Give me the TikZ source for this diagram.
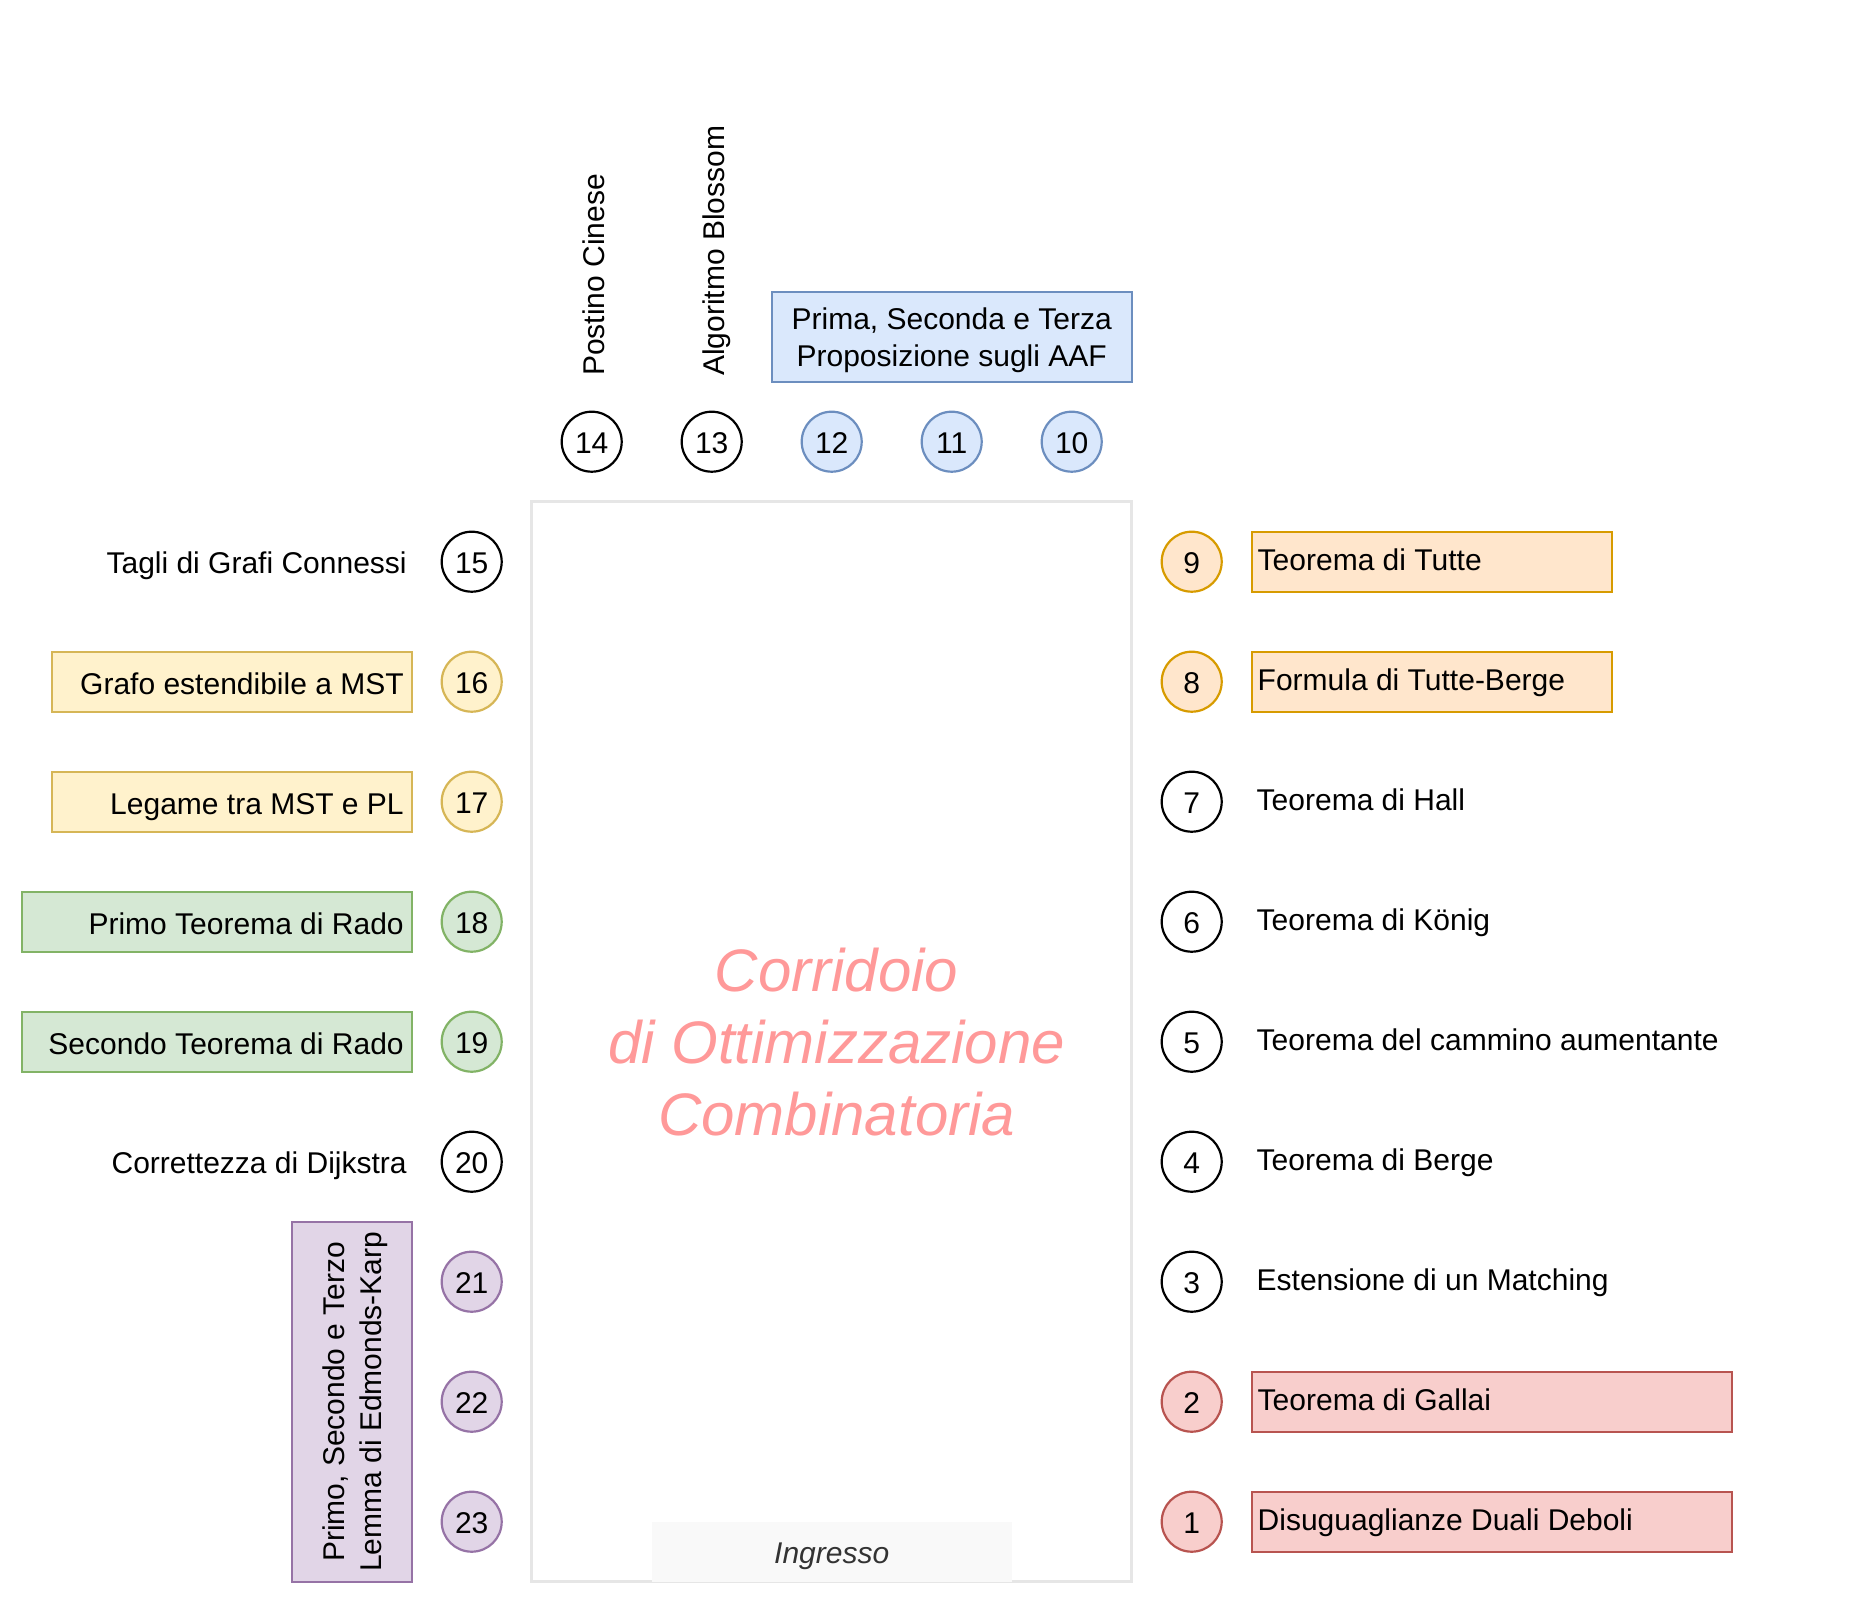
\documentclass[tikz,border=0pt]{standalone}
\usepackage{fontspec}
\setmainfont{Liberation Sans}
\usetikzlibrary{positioning}

\definecolor{gialloFill}{HTML}{FFF2CC}
\definecolor{gialloLine}{HTML}{D6B656}
\definecolor{aranFill}{HTML}{FFE6CC}
\definecolor{aranLine}{HTML}{D79B00}
\definecolor{verdeFill}{HTML}{D5E8D4}
\definecolor{verdeLine}{HTML}{82B366}
\definecolor{rossoFill}{HTML}{F8CECC}
\definecolor{rossoLine}{HTML}{B85450}
\definecolor{bluFill}{HTML}{DAE8FC}
\definecolor{bluLine}{HTML}{6C8EBF}
\definecolor{violaFill}{HTML}{E1D5E7}
\definecolor{violaLine}{HTML}{9673A6}
\definecolor{corrLine}{HTML}{E6E6E6}
\definecolor{ingrFill}{HTML}{F9F9F9}
\definecolor{ingrText}{HTML}{333333}
\definecolor{titolo}{HTML}{FF9999}

\tikzset{
  every node/.style={font=\fontsize{30}{37}\selectfont, outer sep=0pt},
  num/.style={circle, draw, fill=white, line width=2.2pt, minimum size=60pt,
    inner sep=0pt, text height=24.5pt, text depth=0pt},
  lblL/.style={inner xsep=5pt, inner ysep=0pt, text height=24.5pt, text depth=0pt},
  lblR/.style={inner xsep=5pt, inner ysep=0pt, text height=17pt, text depth=0pt},
  boxL/.style={draw, line width=2.2pt, minimum height=60pt, inner xsep=8pt,
    inner ysep=0pt, align=flush right, text height=26pt, text depth=0pt},
  boxR/.style={draw, line width=2.2pt, minimum height=60pt, inner xsep=6pt,
    inner ysep=0pt, align=flush left, text height=17pt, text depth=0pt},
  giallo/.style={draw=gialloLine, fill=gialloFill},
  arancio/.style={draw=aranLine, fill=aranFill},
  verde/.style={draw=verdeLine, fill=verdeFill},
  rosso/.style={draw=rossoLine, fill=rossoFill},
  blu/.style={draw=bluLine, fill=bluFill},
  viola/.style={draw=violaLine, fill=violaFill}
}

\begin{document}
\begin{tikzpicture}[x=1pt, y=-1pt]

  \newcommand\Lx{471.7}
  \newcommand\Rx{1191.7}
  \newcommand\Ty{441.7}
  \newcommand\Yo{561.7}
  \newcommand\Gap{120}

  \useasboundingbox (0,0) rectangle (1873,1603);

  %% corridoio
  \node[draw=corrLine, line width=2.5pt, minimum width=600pt, minimum height=1080pt,
    inner sep=0pt] (corr) at (831.7,1041.7) {};
  \node[fill=ingrFill, minimum width=360pt, minimum height=60pt, inner sep=0pt,
    text=ingrText, text height=22.6pt, text depth=0pt,
    font=\itshape\fontsize{30}{37}\selectfont]
    (ingresso) at ([yshift=30pt]corr.south) {Ingresso};
  \node[text=titolo, align=center, font=\itshape\fontsize{60}{72}\selectfont]
    (titolo) at ([xshift=5pt]corr.center) {Corridoio\\di Ottimizzazione\\Combinatoria};

  %% lato sinistro
  \node[num]         (c15) at (\Lx, \Yo) {15};
  \node[num, giallo] (c16) at (\Lx, \Yo+\Gap) {16};
  \node[num, giallo] (c17) at (\Lx, \Yo+2*\Gap) {17};
  \node[num, verde]  (c18) at (\Lx, \Yo+3*\Gap) {18};
  \node[num, verde]  (c19) at (\Lx, \Yo+4*\Gap) {19};
  \node[num]         (c20) at (\Lx, \Yo+5*\Gap) {20};
  \node[num, viola]  (c21) at (\Lx, \Yo+6*\Gap) {21};
  \node[num, viola]  (c22) at (\Lx, \Yo+7*\Gap) {22};
  \node[num, viola]  (c23) at (\Lx, \Yo+8*\Gap) {23};

  \node[lblL, left=30pt of c15] (l15) {Tagli di Grafi Connessi};
  \node[boxL, giallo, text width=344pt, left=30pt of c16] (l16) {Grafo estendibile a MST};
  \node[boxL, giallo, text width=344pt, left=30pt of c17] (l17) {Legame tra MST e PL};
  \node[boxL, verde, text width=374pt, left=30pt of c18] (l18) {Primo Teorema di Rado};
  \node[boxL, verde, text width=374pt, left=30pt of c19] (l19) {Secondo Teorema di Rado};
  \node[lblL, left=30pt of c20] (l20) {Correttezza di Dijkstra};
  \node[draw, viola, line width=2.2pt, rotate=90, minimum width=360pt, minimum height=120pt,
    align=center, text depth=0pt] (l21) at (351.7, 1401.7)
    {Primo, Secondo e Terzo\\Lemma di Edmonds-Karp};

  %% lato superiore
  \node[num]      (c14) at (\Lx+\Gap, \Ty) {14};
  \node[num]      (c13) at (\Lx+2*\Gap, \Ty) {13};
  \node[num, blu] (c12) at (\Lx+3*\Gap, \Ty) {12};
  \node[num, blu] (c11) at (\Lx+4*\Gap, \Ty) {11};
  \node[num, blu] (c10) at (\Lx+5*\Gap, \Ty) {10};

  \node[rotate=90, anchor=base west, inner sep=0pt]
    (l14) at ([xshift=13pt, yshift=36pt]c14.north) {Postino Cinese};
  \node[rotate=90, anchor=base west, inner sep=0pt]
    (l13) at ([xshift=13pt, yshift=36pt]c13.north) {Algoritmo Blossom};
  \node[draw, blu, line width=2.2pt, minimum width=360pt, minimum height=90pt,
    align=center, text depth=0pt, above=30pt of c11] (l10)
    {Prima, Seconda e Terza\\Proposizione sugli AAF};

  %% lato destro
  \node[num, arancio] (c9) at (\Rx, \Yo) {9};
  \node[num, arancio] (c8) at (\Rx, \Yo+\Gap) {8};
  \node[num]          (c7) at (\Rx, \Yo+2*\Gap) {7};
  \node[num]          (c6) at (\Rx, \Yo+3*\Gap) {6};
  \node[num]          (c5) at (\Rx, \Yo+4*\Gap) {5};
  \node[num]          (c4) at (\Rx, \Yo+5*\Gap) {4};
  \node[num]          (c3) at (\Rx, \Yo+6*\Gap) {3};
  \node[num, rosso]   (c2) at (\Rx, \Yo+7*\Gap) {2};
  \node[num, rosso]   (c1) at (\Rx, \Yo+8*\Gap) {1};

  \node[boxR, arancio, text width=348pt, right=30pt of c9] (l9) {Teorema di Tutte};
  \node[boxR, arancio, text width=348pt, right=30pt of c8] (l8) {Formula di Tutte-Berge};
  \node[lblR, right=30pt of c7] (l7) {Teorema di Hall};
  \node[lblR, right=30pt of c6] (l6) {Teorema di König};
  \node[lblR, right=30pt of c5] (l5) {Teorema del cammino aumentante};
  \node[lblR, right=30pt of c4] (l4) {Teorema di Berge};
  \node[lblR, right=30pt of c3] (l3) {Estensione di un Matching};
  \node[boxR, rosso, text width=468pt, right=30pt of c2] (l2) {Teorema di Gallai};
  \node[boxR, rosso, text width=468pt, right=30pt of c1] (l1) {Disuguaglianze Duali Deboli};

\end{tikzpicture}
\end{document}
